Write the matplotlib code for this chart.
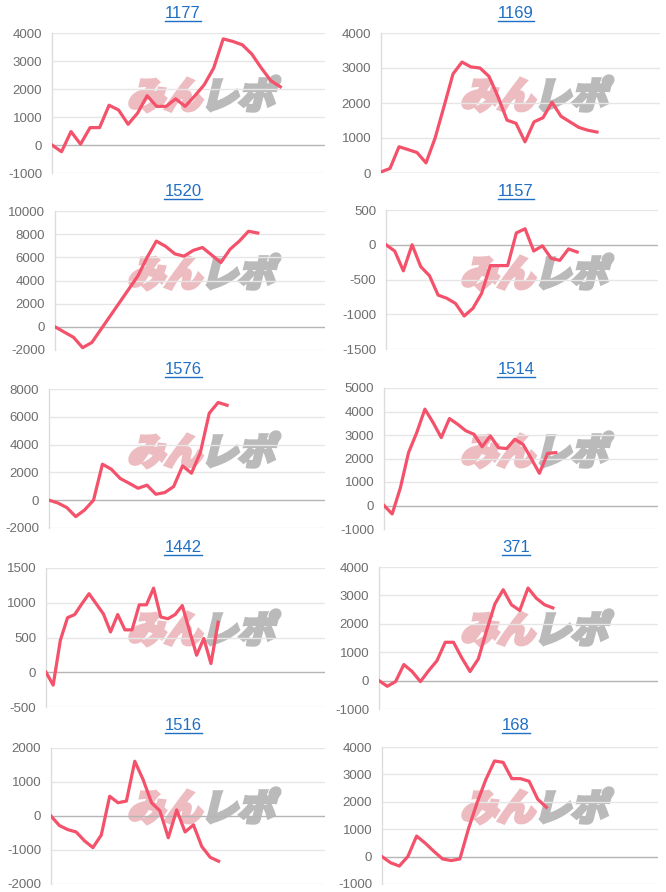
import numpy as np
import matplotlib
matplotlib.use('Agg')
import matplotlib.pyplot as plt
from matplotlib.textpath import TextPath
from matplotlib.patches import PathPatch
from matplotlib.font_manager import FontProperties
from matplotlib.transforms import Affine2D
from matplotlib.lines import Line2D

plt.rcParams['font.family'] = ['Liberation Sans', 'DejaVu Sans']

# machine numbers (panel titles), row by row
machines = ['1177', '1169', '1520', '1157', '1576', '1514', '1442', '371', '1516', '168']

# coin difference per game slot
diff_1177 = [0, -240, 480, 30, 620, 620, 1420, 1250, 740, 1140, 1760, 1380, 1380,
             1650, 1380, 1750, 2150, 2750, 3790, 3700, 3580, 3250, 2750, 2300, 2080]
diff_1169 = [30, 130, 750, 670, 585, 290, 990, 1900, 2830, 3170, 3030, 3000, 2760,
             2180, 1510, 1420, 890, 1460, 1580, 2020, 1620, 1460, 1300, 1220, 1170]
diff_1520 = [0, -450, -900, -1800, -1350, -200, 950, 2100, 3250, 4400, 6000, 7400,
             6950, 6300, 6100, 6600, 6850, 6200, 5550, 6700, 7400, 8250, 8100]
diff_1157 = [0, -90, -375, 0, -315, -445, -725, -770, -845, -1025, -915, -700, -300,
             -300, -300, 170, 230, -90, -15, -195, -225, -60, -105]
diff_1576 = [0, -200, -530, -1180, -700, 0, 2590, 2230, 1560, 1220, 860, 1080, 430,
             550, 980, 2470, 1940, 3430, 6260, 7030, 6830]
diff_1514 = [0, -360, 750, 2250, 3100, 4100, 3530, 2890, 3700, 3460, 3180, 3030, 2500,
             2960, 2460, 2420, 2820, 2600, 2000, 1370, 2220, 2250]
diff_1442 = [0, -185, 460, 785, 830, 985, 1130, 985, 840, 580, 830, 610, 610, 970, 970,
             1210, 795, 770, 830, 960, 600, 245, 485, 125, 720]
diff_371 = [0, -200, -35, 565, 320, -35, 350, 700, 1350, 1350, 800, 320, 765, 1765,
            2700, 3200, 2670, 2470, 3260, 2900, 2670, 2560]
diff_1516 = [0, -280, -400, -470, -730, -930, -560, 580, 390, 440, 1610, 1065, 390, 150,
             -640, 180, -470, -260, -900, -1215, -1330]
diff_168 = [0, -225, -345, 10, 750, 490, 190, -85, -145, -85, 1020, 1975, 2810, 3490,
            3440, 2845, 2845, 2750, 2095, 1800]

series = [diff_1177, diff_1169, diff_1520, diff_1157, diff_1576,
          diff_1514, diff_1442, diff_371, diff_1516, diff_168]

# y axis (min, max, step) and x extent in slots
y_ranges = [(-1000, 4000, 1000), (0, 4000, 1000), (-2000, 10000, 2000), (-1500, 500, 500),
            (-2000, 8000, 2000), (-1000, 5000, 1000), (-500, 1500, 500), (-1000, 4000, 1000),
            (-2000, 2000, 1000), (-1000, 4000, 1000)]
x_extent = [28.7, 31.0, 29.3, 31.3, 31.0, 33.5, 38.9, 33.7, 32.7, 31.9]

W, H = 666, 892
fig = plt.figure(figsize=(W / 100, H / 100), dpi=100)

# plot boxes in pixels: left, top, right, bottom
boxes = [(52, 33, 325, 173), (381, 33, 660, 173),
         (55, 211, 325, 350), (386, 210, 658, 349),
         (49, 389, 325, 528), (384, 388, 658, 529),
         (46, 568, 325, 707), (379, 567, 658, 709),
         (51, 748, 325, 884), (382, 747, 658, 884)]
row_tops = [0, 178, 356, 534, 712]

line_col = '#f4516b'
title_col = '#1f6fc5'

fp = FontProperties(family='Noto Sans CJK JP', weight='bold')


def add_watermark(cx, cy):
    # "みんレポ" logo, slanted, behind the lines
    p1 = TextPath((0, 0), 'みん', size=37, prop=fp)
    p2 = TextPath((0, 0), 'レポ', size=37, prop=fp)
    e1, e2 = p1.get_extents(), p2.get_extents()
    gap = 8
    total = e1.width + gap + e2.width
    x0 = cx - total / 2
    y0 = (H - cy) - e1.height / 2
    for p, e, xs, col in [(p1, e1, x0, '#edbcc1'), (p2, e2, x0 + e1.width + gap, '#bababa')]:
        tr = Affine2D().translate(-e.x0, -e1.y0).skew_deg(14, 0).translate(xs, y0) \
            .scale(1 / 100) + fig.dpi_scale_trans
        fig.add_artist(PathPatch(p, transform=tr, facecolor=col, edgecolor=col,
                                 lw=3.0, joinstyle='miter', zorder=-1))


titles = []
for i, (name, vals) in enumerate(zip(machines, series)):
    l, t, r, b = boxes[i]
    ax = fig.add_axes([l / W, 1 - b / H, (r - l) / W, (b - t) / H])
    ax.set_facecolor('none')
    lo, hi, step = y_ranges[i]
    ticks = np.arange(lo, hi + step, step)
    for v in ticks:
        ax.axhline(v, color='#b5b5b5' if v == 0 else '#e6e6e6', lw=1, zorder=1)
    ax.plot(np.arange(len(vals)), vals, color=line_col, lw=2.3, zorder=3)
    ax.set_xlim(0, x_extent[i])
    ax.set_ylim(lo, hi)
    ax.set_yticks(ticks)
    ax.set_yticklabels(['%d' % v for v in ticks])
    ax.set_xticks([])
    ax.tick_params(axis='y', length=0, pad=7, labelsize=9.5, labelcolor='#6e6e6e')
    for s in ['top', 'right', 'bottom']:
        ax.spines[s].set_visible(False)
    ax.spines['left'].set_color('#dcdcdc')
    ax.spines['left'].set_linewidth(1)

    col = i % 2
    top = row_tops[i // 2]
    tx = 183 if col == 0 else 516
    titles.append(fig.text(tx / W, 1 - (top + 14) / H, name, color=title_col,
                           fontsize=12, ha='center', va='center'))
    add_watermark(200 if col == 0 else 533, top + 95)

# underline the titles like links
fig.canvas.draw()
renderer = fig.canvas.get_renderer()
inv = fig.transFigure.inverted()
for t in titles:
    bb = t.get_window_extent(renderer)
    (x0, y0), (x1, _) = inv.transform([(bb.x0, bb.y0 + 1), (bb.x1, bb.y0 + 1)])
    fig.add_artist(Line2D([x0, x1], [y0, y0], transform=fig.transFigure,
                          color=title_col, lw=1))

fig.savefig('out.png', dpi=100)
